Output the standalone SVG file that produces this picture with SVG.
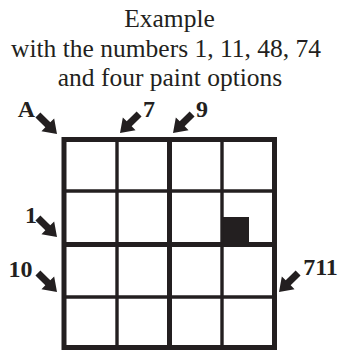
<svg xmlns="http://www.w3.org/2000/svg" xmlns:xlink="http://www.w3.org/1999/xlink" width="339" height="351" viewBox="0 0 339 351">
  <style>
    .title { font-family: "Liberation Serif", "DejaVu Serif", serif; font-size: 25.5px; fill: #231f20; text-anchor: middle; }
    .clue { font-family: "Liberation Serif", "DejaVu Serif", serif; font-size: 24px; font-weight: bold; fill: #231f20; text-anchor: middle; }
    .thick { stroke: #231f20; stroke-width: 5; fill: none; }
    .thin { stroke: #231f20; stroke-width: 3.4; fill: none; }
    .arrow { fill: #231f20; }
  </style>
  <defs>
    <path id="arr" d="M0,0 L-13,-9 L-13,-3.5 L-27,-3.5 L-27,3.5 L-13,3.5 L-13,9 Z"/>
  </defs>
  <rect width="339" height="351" fill="#ffffff"/>

  <g id="title">
    <text class="title" x="169.5" y="27">Example</text>
    <text class="title" x="166" y="57">with the numbers 1, 11, 48, 74</text>
    <text class="title" x="170" y="86">and four paint options</text>
  </g>

  <g id="grid">
    <rect x="222" y="217" width="27" height="27.5" fill="#231f20"/>
    <line class="thin" x1="117" y1="139.5" x2="117" y2="347.5"/>
    <line class="thin" x1="222" y1="139.5" x2="222" y2="347.5"/>
    <line class="thin" x1="64" y1="191" x2="274.5" y2="191"/>
    <line class="thin" x1="64" y1="297" x2="274.5" y2="297"/>
    <line class="thick" x1="169.5" y1="139.5" x2="169.5" y2="347.5"/>
    <line class="thick" x1="64" y1="244.5" x2="274.5" y2="244.5"/>
    <rect class="thick" x="64" y="139.5" width="210.5" height="208"/>
  </g>

  <g id="clue-A"><text class="clue" x="26.5" y="117">A</text></g>
  <g id="clue-7"><text class="clue" x="149" y="117">7</text></g>
  <g id="clue-9"><text class="clue" x="202" y="117">9</text></g>
  <g id="clue-1"><text class="clue" x="31" y="223">1</text></g>
  <g id="clue-10"><text class="clue" x="20.5" y="277">10</text></g>
  <g id="clue-711"><text class="clue" x="320.5" y="275">711</text></g>

  <g id="connectors" class="arrow">
    <use xlink:href="#arr" transform="translate(57,134) rotate(45)"/>
    <use xlink:href="#arr" transform="translate(120,133) rotate(135)"/>
    <use xlink:href="#arr" transform="translate(173,133) rotate(135)"/>
    <use xlink:href="#arr" transform="translate(57,237) rotate(45)"/>
    <use xlink:href="#arr" transform="translate(57,292) rotate(45)"/>
    <use xlink:href="#arr" transform="translate(279,292) rotate(135)"/>
  </g>
</svg>
